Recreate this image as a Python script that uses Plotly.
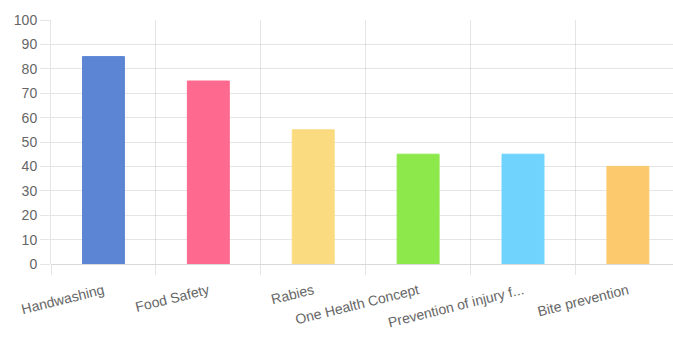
import plotly.graph_objects as go

categories = ["Handwashing", "Food Safety", "Rabies", "One Health Concept",
              "Prevention of injury f...", "Bite prevention"]
values = [85, 75, 55, 45, 45, 40]
colors = ["#5C86D4", "#FE6A8F", "#FADB80", "#8DE84C", "#6FD3FE", "#FDC96D"]
y_ticks = [0, 10, 20, 30, 40, 50, 60, 70, 80, 90, 100]

grid = "rgba(0,0,0,0.1)"
font = dict(family="Liberation Sans, Arial, sans-serif", size=14, color="#666666")

fig = go.Figure(go.Bar(
    x=categories, y=values,
    marker=dict(color=colors, line=dict(color=colors, width=1)),
    width=0.4,
))

fig.update_layout(
    width=673, height=338,
    margin=dict(l=51, r=0, t=20, b=74),
    paper_bgcolor="white", plot_bgcolor="white",
    font=font, showlegend=False, bargap=0.6,
)
fig.update_xaxes(
    type="category", range=[-0.5, 5.43], tickson="boundaries",
    showgrid=True, gridcolor=grid, gridwidth=1,
    ticks="outside", ticklen=10, tickcolor=grid,
    tickangle=-14, showline=False, zeroline=False,
    tickfont=font, ticklabelstandoff=15,
)
fig.update_yaxes(
    range=[0, 100], tickvals=y_ticks,
    showgrid=True, gridcolor=grid, gridwidth=1,
    ticks="outside", ticklen=10, tickcolor=grid,
    showline=True, linecolor=grid, linewidth=1,
    zeroline=True, zerolinecolor="rgba(0,0,0,0.15)", zerolinewidth=1,
    tickfont=font,
)

fig.write_html("out.html")
